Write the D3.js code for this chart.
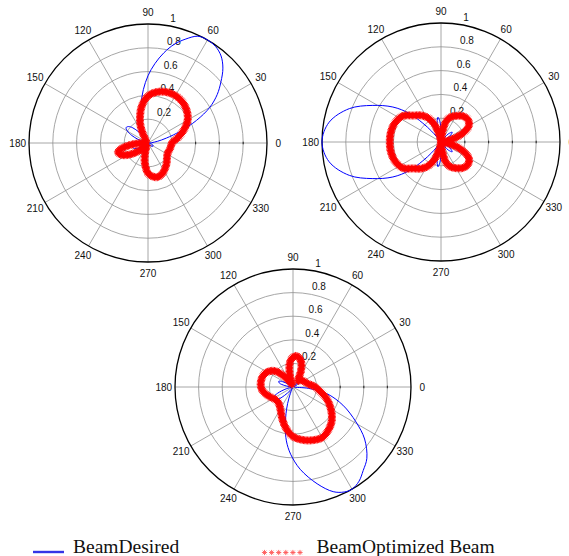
<!DOCTYPE html>
<html>
<head>
<meta charset="utf-8">
<script src="https://cdn.jsdelivr.net/npm/d3@7"></script>
<style>
  html, body { margin: 0; padding: 0; background: #fff; }
  svg { display: block; }
</style>
</head>
<body>
<svg id="chart" width="569" height="556"></svg>
<script>
// angles are degrees counter-clockwise from east, radii normalised to 1
const angleTicks = [0, 30, 60, 90, 120, 150, 180, 210, 240, 270, 300, 330];
const ringTicks = [0.2, 0.4, 0.6, 0.8, 1];

// panel 1 (top left)
const desired1 = [
  [0, 0.01], [5, 0.03], [10, 0.08], [15, 0.16], [20, 0.29], [25, 0.45], [30, 0.6], [35, 0.71],
  [40, 0.8], [45, 0.89], [50, 0.955], [55, 0.99], [60, 1.0], [65, 0.99], [70, 0.93], [75, 0.86],
  [80, 0.77], [85, 0.67], [90, 0.565], [95, 0.45], [100, 0.335], [105, 0.24], [110, 0.15],
  [115, 0.08], [120, 0.03], [125, 0.06], [130, 0.12], [135, 0.18], [140, 0.215], [145, 0.225],
  [150, 0.2], [155, 0.15], [160, 0.09], [165, 0.04], [170, 0.01], [180, 0.02], [185, 0.06],
  [190, 0.11], [195, 0.135], [200, 0.13], [205, 0.11], [210, 0.07], [215, 0.03], [222, 0.01],
  [240, 0.01], [260, 0.01], [280, 0.01], [300, 0.01], [310, 0.02], [320, 0.045], [330, 0.05],
  [340, 0.04], [350, 0.02]
];
const optimized1 = [
  [0, 0.2], [10, 0.255], [20, 0.32], [30, 0.385], [40, 0.425], [50, 0.45], [60, 0.46], [70, 0.455],
  [80, 0.435], [90, 0.395], [100, 0.31], [106, 0.24], [112, 0.175], [118, 0.1], [124, 0.04],
  [135, 0.02], [155, 0.02], [175, 0.03], [182, 0.08], [187, 0.16], [192, 0.23], [197, 0.265],
  [203, 0.25], [209, 0.21], [215, 0.155], [221, 0.1], [228, 0.05], [238, 0.02], [248, 0.04],
  [254, 0.09], [259, 0.15], [264, 0.2], [270, 0.255], [278, 0.285], [286, 0.298], [295, 0.285],
  [303, 0.26], [313, 0.23], [323, 0.2], [333, 0.185], [343, 0.19], [352, 0.195]
];

// panel 2 (top right)
const desired2 = [
  [0, 0.03], [8, 0.02], [16, 0.01], [24, 0.01], [28, 0.02], [34, 0.09], [41, 0.125], [48, 0.09],
  [54, 0.02], [62, 0.005], [75, 0.005], [86, 0.02], [90, 0.09], [93, 0.17], [97, 0.21], [101, 0.17],
  [104, 0.09], [108, 0.02], [116, 0.005], [124, 0.005], [128, 0.02], [131, 0.12], [134, 0.22],
  [138, 0.36], [144, 0.5], [152, 0.655], [160, 0.82], [170, 0.955], [180, 1.0], [190, 0.955],
  [200, 0.82], [208, 0.655], [216, 0.5], [222, 0.36], [226, 0.22], [229, 0.12], [232, 0.02],
  [236, 0.005], [244, 0.005], [252, 0.02], [256, 0.09], [259, 0.17], [263, 0.21], [267, 0.17],
  [270, 0.09], [274, 0.02], [285, 0.005], [298, 0.005], [306, 0.02], [312, 0.09], [319, 0.125],
  [326, 0.09], [332, 0.02], [336, 0.01], [344, 0.01], [352, 0.02]
];
const optimized2 = [
  [0, 0.0], [8, 0.03], [13, 0.08], [18, 0.15], [24, 0.22], [31, 0.275], [40, 0.295], [50, 0.285],
  [58, 0.26], [66, 0.235], [72, 0.21], [77, 0.17], [81, 0.1], [85, 0.03], [90, 0.005], [96, 0.01],
  [102, 0.05], [106, 0.09], [111, 0.165], [119, 0.235], [127, 0.28], [136, 0.32], [146, 0.39],
  [158, 0.42], [170, 0.43], [180, 0.43], [190, 0.43], [202, 0.42], [214, 0.39], [224, 0.32],
  [233, 0.28], [241, 0.235], [249, 0.165], [254, 0.09], [258, 0.05], [264, 0.01], [270, 0.005],
  [275, 0.03], [279, 0.1], [283, 0.17], [288, 0.21], [294, 0.235], [302, 0.26], [310, 0.285],
  [320, 0.295], [329, 0.275], [336, 0.22], [342, 0.15], [347, 0.08], [352, 0.03]
];

// panel 3 (bottom)
const desired3 = [
  [0, 0.01], [10, 0.01], [20, 0.01], [30, 0.04], [40, 0.05], [50, 0.03], [60, 0.01], [100, 0.01],
  [140, 0.01], [148, 0.05], [153, 0.1], [158, 0.13], [164, 0.12], [170, 0.07], [176, 0.02],
  [185, 0.01], [195, 0.06], [202, 0.14], [208, 0.19], [213, 0.205], [219, 0.17], [225, 0.1],
  [231, 0.04], [238, 0.01], [245, 0.03], [250, 0.1], [254, 0.2], [259, 0.34], [263, 0.46],
  [268, 0.57], [275, 0.7], [284, 0.845], [291, 0.95], [296, 0.99], [300, 1.0], [305, 0.975],
  [310, 0.925], [316, 0.87], [324, 0.75], [331, 0.61], [340, 0.45], [349, 0.29], [355, 0.13]
];
const optimized3 = [
  [0, 0.19], [6, 0.155], [12, 0.13], [22, 0.11], [33, 0.1], [42, 0.085], [50, 0.065], [56, 0.08],
  [63, 0.145], [70, 0.21], [77, 0.25], [84, 0.265], [92, 0.245], [98, 0.2], [103, 0.13],
  [108, 0.06], [114, 0.02], [121, 0.04], [126, 0.08], [131, 0.13], [138, 0.2], [146, 0.24],
  [155, 0.265], [165, 0.275], [175, 0.275], [185, 0.265], [194, 0.24], [204, 0.21], [214, 0.185],
  [225, 0.18], [236, 0.2], [245, 0.24], [252, 0.29], [261, 0.36], [270, 0.42], [280, 0.455],
  [290, 0.48], [300, 0.495], [310, 0.47], [318, 0.44], [326, 0.395], [334, 0.345], [341, 0.3],
  [348, 0.25], [354, 0.215]
];

const legendLabels = ["BeamDesired", "BeamOptimized Beam"];

const panels = [
  { cx: 148, cy: 143, R: 119, desired: desired1, optimized: optimized1 },
  { cx: 441, cy: 142, R: 119, desired: desired2, optimized: optimized2 },
  { cx: 293, cy: 387, R: 118, desired: desired3, optimized: optimized3 }
];

const svg = d3.select("#chart");
const toRad = deg => deg * Math.PI / 180;

// asterisk marker like the matlab '*'
function star(x, y, h) {
  const k = h * 0.7;
  return `M${x - h},${y}h${2 * h}M${x},${y - h}v${2 * h}` +
    `M${x - k},${y - k}l${2 * k},${2 * k}M${x - k},${y + k}l${2 * k},${-2 * k}`;
}

function drawPanel(p) {
  const r = d3.scaleLinear().domain([0, 1]).range([0, p.R]);
  const g = svg.append("g").attr("transform", `translate(${p.cx},${p.cy})`);

  // rings
  g.selectAll("circle.ring")
    .data(ringTicks.slice(0, -1))
    .join("circle")
    .attr("r", d => r(d))
    .attr("fill", "none")
    .attr("stroke", "#8f8f8f")
    .attr("stroke-width", 0.8);

  // spokes (full diameters)
  g.selectAll("line.spoke")
    .data(angleTicks.filter(a => a < 180))
    .join("line")
    .attr("x1", d => -r(1) * Math.cos(toRad(d)))
    .attr("y1", d => r(1) * Math.sin(toRad(d)))
    .attr("x2", d => r(1) * Math.cos(toRad(d)))
    .attr("y2", d => -r(1) * Math.sin(toRad(d)))
    .attr("stroke", "#8f8f8f")
    .attr("stroke-width", 0.8);

  // little tick marks along the 0 axis
  g.selectAll("line.tick")
    .data(ringTicks.slice(0, -1))
    .join("line")
    .attr("x1", d => r(d)).attr("x2", d => r(d))
    .attr("y1", -1.2).attr("y2", 1.2)
    .attr("stroke", "#333")
    .attr("stroke-width", 1.2);

  // outer circle
  g.append("circle")
    .attr("r", r(1))
    .attr("fill", "none")
    .attr("stroke", "#000")
    .attr("stroke-width", 1.3);

  // angle labels
  g.selectAll("text.ang")
    .data(angleTicks)
    .join("text")
    .attr("x", d => r(1.095) * Math.cos(toRad(d)))
    .attr("y", d => -r(1.095) * Math.sin(toRad(d)))
    .attr("text-anchor", "middle")
    .attr("dominant-baseline", "central")
    .attr("font-family", "'Liberation Sans', Arial, sans-serif")
    .attr("font-size", "10px")
    .attr("fill", "#111")
    .text(d => d);

  // radial labels at 82 degrees, matlab style
  g.selectAll("text.rad")
    .data(ringTicks)
    .join("text")
    .attr("x", d => r(d + 0.01) * Math.cos(toRad(82)) + 5.6)
    .attr("y", d => -r(d + 0.01) * Math.sin(toRad(82)) - 2.4)
    .attr("font-family", "'Liberation Sans', Arial, sans-serif")
    .attr("font-size", "10px")
    .attr("fill", "#111")
    .text(d => d);

  const line = d3.lineRadial()
    .angle(d => toRad(90 - d[0]))
    .radius(d => r(d[1]))
    .curve(d3.curveCatmullRomClosed.alpha(0.5));

  // desired beam
  g.append("path")
    .attr("d", line(p.desired))
    .attr("fill", "none")
    .attr("stroke", "#0000ff")
    .attr("stroke-width", 1);

  // optimized beam: dense star markers
  const red = g.append("path")
    .attr("d", line(p.optimized))
    .attr("fill", "none")
    .attr("stroke", "#ff0000")
    .attr("stroke-width", 5);
  const node = red.node();
  const L = node.getTotalLength();
  let dStars = "";
  d3.range(0, L, 1.4).forEach(s => {
    const pt = node.getPointAtLength(s);
    dStars += star(pt.x, pt.y, 4);
  });
  g.append("path")
    .attr("d", dStars)
    .attr("fill", "none")
    .attr("stroke", "#ff0000")
    .attr("stroke-width", 0.9);
}

panels.forEach(drawPanel);

// legend
const leg = svg.append("g");
leg.append("line")
  .attr("x1", 33).attr("x2", 64)
  .attr("y1", 552).attr("y2", 552)
  .attr("stroke", "#3434e6")
  .attr("stroke-width", 2.4);
leg.append("text")
  .attr("x", 73).attr("y", 552.5)
  .attr("font-family", "'Liberation Serif', 'Times New Roman', serif")
  .attr("font-size", "19.5px")
  .attr("fill", "#111")
  .text(legendLabels[0]);

const starX = d3.scaleLinear().domain([0, 5]).range([264.5, 300]);
leg.append("path")
  .attr("d", d3.range(6).map(i => star(starX(i), 552.5, 2.6)).join(""))
  .attr("fill", "none")
  .attr("stroke", "#ff5a5a")
  .attr("stroke-width", 0.9);
leg.append("text")
  .attr("x", 316.5).attr("y", 552.5)
  .attr("font-family", "'Liberation Serif', 'Times New Roman', serif")
  .attr("font-size", "19.5px")
  .attr("fill", "#111")
  .text(legendLabels[1]);
</script>
</body>
</html>
